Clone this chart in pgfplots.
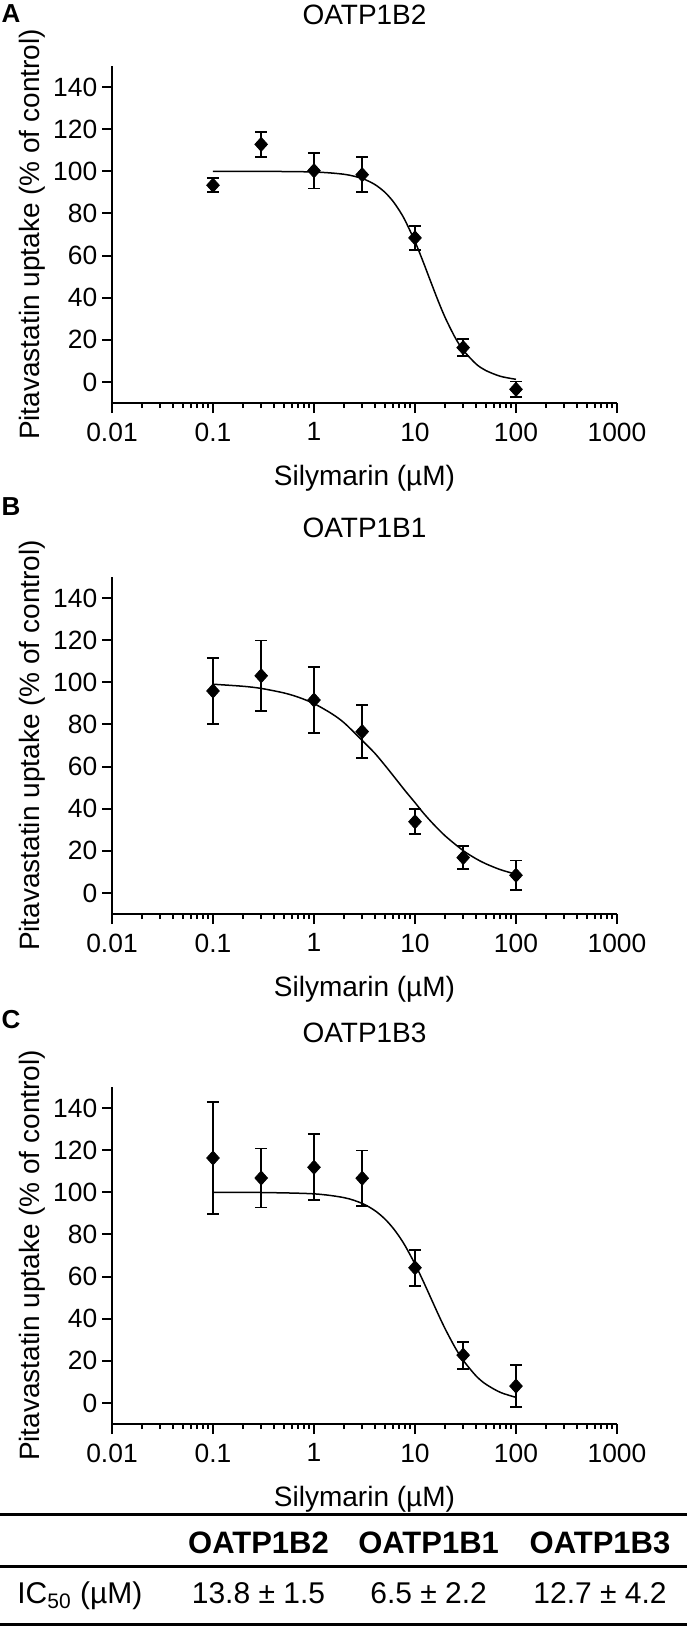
\documentclass[border=0pt]{standalone}
\usepackage{fontspec}
\setmainfont{Liberation Sans}
\usepackage{pgfplots}
\pgfplotsset{compat=1.18}
\begin{document}
\fontsize{14}{16}\selectfont
\begin{tikzpicture}
\path[use as bounding box] (0,0) rectangle (343.5pt,-814pt);
% ---------- Panel A ----------
\begin{axis}[at={(56pt,-201.5pt)}, anchor=south west,
    xmode=log,
    scale only axis, width=252.5pt, height=168.5pt,
    xmin=0.01, xmax=1000, ymin=-10, ymax=150,
    axis lines*=left, axis line style={-, line width=1pt},
    xtick={0.01,0.1,1,10,100,1000},
    xticklabels={0.01,0.1,1,10,100,1000},
    minor xtick={0.02,0.03,0.04,0.05,0.06,0.07,0.08,0.09,0.2,0.3,0.4,0.5,0.6,0.7,0.8,0.9,2,3,4,5,6,7,8,9,20,30,40,50,60,70,80,90,200,300,400,500,600,700,800,900},
    ytick={0,20,40,60,80,100,120,140},
    tick align=outside,
    major tick length=5pt, minor tick length=2.5pt,
    tick style={line width=1pt, black},
    /pgf/number format/assume math mode=true,
    tick label style={font=\fontsize{13.2}{15}\selectfont},
    yticklabel style={xshift=2.5pt},
    xlabel={Silymarin (µM)},
    ylabel={Pitavastatin uptake (\% of control)},
    every axis x label/.style={at={(axis description cs:0.5,0)}, anchor=center, yshift=-37.5pt},
    every axis y label/.style={at={([xshift=-40pt]axis description cs:0,0.5)}, anchor=center, rotate=90},
    title={OATP1B2},
    title style={at={(axis description cs:0.5,1)}, anchor=center, yshift=19.5pt},
    clip=false]
\addplot[black, line width=0.75pt, smooth, no marks] coordinates {
(0.1,100.0) (0.3,99.98) (1,99.68) (2,98.57) (3,96.58) (4,93.75) (5,90.19) (6,86.02) (7,81.41) (8,76.57)
(10,66.65) (12,57.24) (14,48.81) (17,38.35) (20,30.32) (25,21.03) (30,15.13) (40,8.65) (50,5.48) (70,2.69) (100,1.25)};
\addplot[black, only marks, mark=diamond*, mark size=3.5pt,
    mark options={xscale=1.2, fill=black, draw=black},
    error bars/.cd, y dir=both, y explicit,
    error bar style={line width=0.9pt, black},
    error mark options={rotate=90, mark size=3pt, line width=0.9pt, black}]
  coordinates {
(0.1,93.4) +- (0,3.3)
(0.3,112.8) +- (0,6.0)
(1,100.3) +- (0,8.5)
(3,98.4) +- (0,8.3)
(10,68.4) +- (0,5.7)
(30,16.3) +- (0,4.0)
(100,-3.5) +- (0,3.7)};
\end{axis}
% ---------- Panel B ----------
\begin{axis}[at={(56pt,-457pt)}, anchor=south west,
    xmode=log,
    scale only axis, width=252.5pt, height=168.5pt,
    xmin=0.01, xmax=1000, ymin=-10, ymax=150,
    axis lines*=left, axis line style={-, line width=1pt},
    xtick={0.01,0.1,1,10,100,1000},
    xticklabels={0.01,0.1,1,10,100,1000},
    minor xtick={0.02,0.03,0.04,0.05,0.06,0.07,0.08,0.09,0.2,0.3,0.4,0.5,0.6,0.7,0.8,0.9,2,3,4,5,6,7,8,9,20,30,40,50,60,70,80,90,200,300,400,500,600,700,800,900},
    ytick={0,20,40,60,80,100,120,140},
    tick align=outside,
    major tick length=5pt, minor tick length=2.5pt,
    tick style={line width=1pt, black},
    /pgf/number format/assume math mode=true,
    tick label style={font=\fontsize{13.2}{15}\selectfont},
    yticklabel style={xshift=2.5pt},
    xlabel={Silymarin (µM)},
    ylabel={Pitavastatin uptake (\% of control)},
    every axis x label/.style={at={(axis description cs:0.5,0)}, anchor=center, yshift=-37.5pt},
    every axis y label/.style={at={([xshift=-40pt]axis description cs:0,0.5)}, anchor=center, rotate=90},
    title={OATP1B1},
    title style={at={(axis description cs:0.5,1)}, anchor=center, yshift=18.5pt},
    clip=false]
\addplot[black, line width=0.75pt, smooth, no marks] coordinates {
(0.1,99.1) (0.2,98.11) (0.3,97.1) (0.5,95.0) (0.7,92.94) (1,89.9) (1.5,85.09) (2,80.67) (3,72.4) (4,66.33)
(5,60.8) (6,56.06) (7,52.0) (8,48.48) (10,42.9) (12,38.17) (15,32.98) (20,27.0) (30,20.1) (40,16.3) (50,13.9) (70,11.06) (100,8.9)};
\addplot[black, only marks, mark=diamond*, mark size=3.5pt,
    mark options={xscale=1.2, fill=black, draw=black},
    error bars/.cd, y dir=both, y explicit,
    error bar style={line width=0.9pt, black},
    error mark options={rotate=90, mark size=3pt, line width=0.9pt, black}]
  coordinates {
(0.1,95.9) +- (0,15.8)
(0.3,103.1) +- (0,16.8)
(1,91.6) +- (0,15.5)
(3,76.6) +- (0,12.7)
(10,33.8) +- (0,5.9)
(30,16.8) +- (0,5.5)
(100,8.4) +- (0,7.0)};
\end{axis}
% ---------- Panel C ----------
\begin{axis}[at={(56pt,-712pt)}, anchor=south west,
    xmode=log,
    scale only axis, width=252.5pt, height=168.5pt,
    xmin=0.01, xmax=1000, ymin=-10, ymax=150,
    axis lines*=left, axis line style={-, line width=1pt},
    xtick={0.01,0.1,1,10,100,1000},
    xticklabels={0.01,0.1,1,10,100,1000},
    minor xtick={0.02,0.03,0.04,0.05,0.06,0.07,0.08,0.09,0.2,0.3,0.4,0.5,0.6,0.7,0.8,0.9,2,3,4,5,6,7,8,9,20,30,40,50,60,70,80,90,200,300,400,500,600,700,800,900},
    ytick={0,20,40,60,80,100,120,140},
    tick align=outside,
    major tick length=5pt, minor tick length=2.5pt,
    tick style={line width=1pt, black},
    /pgf/number format/assume math mode=true,
    tick label style={font=\fontsize{13.2}{15}\selectfont},
    yticklabel style={xshift=2.5pt},
    xlabel={Silymarin (µM)},
    ylabel={Pitavastatin uptake (\% of control)},
    every axis x label/.style={at={(axis description cs:0.5,0)}, anchor=center, yshift=-37.5pt},
    every axis y label/.style={at={([xshift=-40pt]axis description cs:0,0.5)}, anchor=center, rotate=90},
    title={OATP1B3},
    title style={at={(axis description cs:0.5,1)}, anchor=center, yshift=21pt},
    clip=false]
\addplot[black, line width=0.75pt, smooth, no marks] coordinates {
(0.1,100.0) (0.3,99.92) (1,99.28) (2,97.44) (3,94.73) (4,91.35) (5,87.48) (6,83.29) (7,78.95) (8,74.55)
(10,65.96) (12,58.04) (14,50.98) (17,42.07) (20,34.97) (25,26.24) (30,20.25) (40,12.98) (50,8.98) (70,5.03) (100,2.66)};
\addplot[black, only marks, mark=diamond*, mark size=3.5pt,
    mark options={xscale=1.2, fill=black, draw=black},
    error bars/.cd, y dir=both, y explicit,
    error bar style={line width=0.9pt, black},
    error mark options={rotate=90, mark size=3pt, line width=0.9pt, black}]
  coordinates {
(0.1,116.3) +- (0,26.5)
(0.3,106.8) +- (0,14.0)
(1,111.9) +- (0,15.7)
(3,106.7) +- (0,13.2)
(10,64.2) +- (0,8.5)
(30,22.7) +- (0,6.4)
(100,8.0) +- (0,10.0)};
\end{axis}
% panel letters
\node[font=\bfseries\fontsize{13}{15}\selectfont] at (5.5pt,-7pt) {A};
\node[font=\bfseries\fontsize{13}{15}\selectfont] at (5.5pt,-253.5pt) {B};
\node[font=\bfseries\fontsize{13}{15}\selectfont] at (5.5pt,-510pt) {C};
% IC50 table
\draw[line width=1.5pt] (0,-757pt) -- (343.5pt,-757pt);
\draw[line width=1.5pt] (0,-783pt) -- (343.5pt,-783pt);
\draw[line width=1.5pt] (0,-812pt) -- (343.5pt,-812pt);
\begin{scope}[every node/.style={font=\bfseries\fontsize{15.5}{18}\selectfont, anchor=base}]
\node at (129.25pt,-776.5pt) {OATP1B2};
\node at (214.3pt,-776.5pt) {OATP1B1};
\node at (300pt,-776.5pt) {OATP1B3};
\end{scope}
\begin{scope}[every node/.style={font=\fontsize{15}{18}\selectfont, anchor=base}]
\node[anchor=base west, inner xsep=0pt] at (8.5pt,-801.8pt) {IC\textsubscript{50} (µM)};
\node at (129.25pt,-801.8pt) {13.8 ± 1.5};
\node at (214.3pt,-801.8pt) {6.5 ± 2.2};
\node at (300pt,-801.8pt) {12.7 ± 4.2};
\end{scope}
\end{tikzpicture}
\end{document}
